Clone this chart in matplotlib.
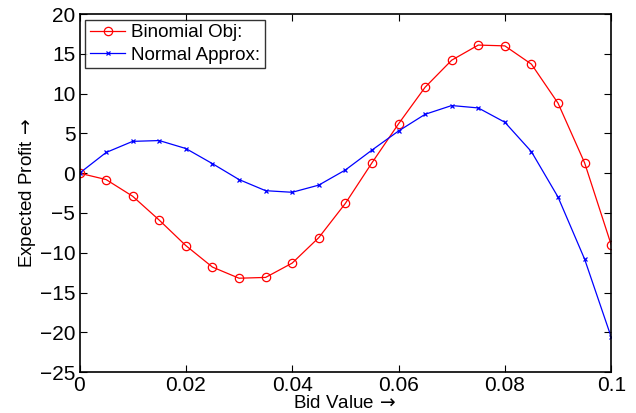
import numpy as np
import matplotlib
matplotlib.use('Agg')
import matplotlib.pyplot as plt

plt.rcParams['font.family'] = ['Liberation Sans', 'DejaVu Sans']

# datos
bid = np.arange(21) * 0.005
binomial = [0, -0.8, -2.9, -5.9, -9.1, -11.8, -13.2, -13.1, -11.3, -8.1, -3.8,
            1.3, 6.2, 10.8, 14.2, 16.1, 16.0, 13.7, 8.8, 1.3, -9.0]
normal = [0, 2.6, 4.0, 4.1, 3.1, 1.2, -0.8, -2.2, -2.4, -1.5, 0.4,
          2.9, 5.3, 7.4, 8.5, 8.2, 6.4, 2.7, -3.0, -10.8, -20.6]
xticks = [0, 0.02, 0.04, 0.06, 0.08, 0.1]
xticklabels = ['0', '0.02', '0.04', '0.06', '0.08', '0.1']
yticks = list(range(-25, 21, 5))

fig = plt.figure(figsize=(6.36, 4.13), dpi=100)
ax = fig.add_axes([0.125, 0.099, 0.836, 0.867])

ax.plot(bid, binomial, '-o', color='red', linewidth=0.9, markersize=6,
        markerfacecolor='none', markeredgewidth=0.9, label='Binomial Obj:')
ax.plot(bid, normal, '-x', color='blue', linewidth=0.9, markersize=3,
        markeredgewidth=0.9, label='Normal Approx:')

ax.set_xlim(0, 0.1)
ax.set_ylim(-25, 20)
ax.set_xticks(xticks)
ax.set_xticklabels(xticklabels)
ax.set_yticks(yticks)
ax.tick_params(direction='in', top=True, right=True, labelsize=15, length=5)
ax.tick_params(axis='x', pad=3)
ax.tick_params(axis='y', pad=3)
for s in ax.spines.values():
    s.set_linewidth(1.2)

ax.set_xlabel('Bid Value$\\,\\rightarrow$', fontsize=13.5, labelpad=0)
ax.set_ylabel('Expected Profit$\\,\\rightarrow$', fontsize=13.5, labelpad=1)

leg = ax.legend(loc='upper left', fontsize=13.5, frameon=True, fancybox=False,
                edgecolor='black', borderpad=0.25, handlelength=1.9,
                handletextpad=0.3, labelspacing=0.27, borderaxespad=0.3)
leg.get_frame().set_linewidth(1.0)

plt.savefig('out.png', dpi=100)
plt.close()
